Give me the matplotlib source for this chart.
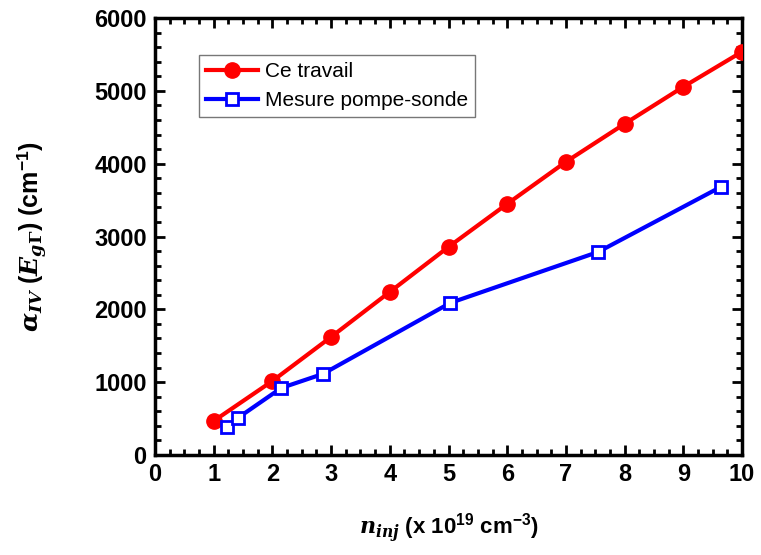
import matplotlib
matplotlib.use("Agg")
import matplotlib.pyplot as plt
from matplotlib.ticker import MultipleLocator

red_x = [1, 2, 3, 4, 5, 6, 7, 8, 9, 10]
red_y = [467, 1016, 1621, 2239, 2857, 3448, 4025, 4547, 5055, 5536]
blue_x = [1.23, 1.41, 2.15, 2.86, 5.03, 7.55, 9.64]
blue_y = [385, 508, 920, 1113, 2088, 2788, 3681]

plt.rcParams['font.family'] = ['Liberation Sans', 'DejaVu Sans']
plt.rcParams['mathtext.fontset'] = 'custom'
plt.rcParams['mathtext.it'] = 'DejaVu Serif:italic:bold'
plt.rcParams['mathtext.rm'] = 'DejaVu Serif:bold'
plt.rcParams['mathtext.bf'] = 'DejaVu Serif:bold'
plt.rcParams['mathtext.sf'] = 'Liberation Sans:bold'

fig = plt.figure(figsize=(7.61, 5.55), dpi=100)
ax = fig.add_axes([155/761, 1 - 455/555, (742-155)/761, (455-18)/555])

ax.plot(red_x, red_y, color='#ff0000', lw=3, marker='o', ms=11, label='Ce travail', zorder=3)
ax.plot(blue_x, blue_y, color='#0000ff', lw=3, marker='s', ms=8, mfc='white',
        mec='#0000ff', mew=2, label='Mesure pompe-sonde', zorder=3)

ax.set_xlim(0, 10)
ax.set_ylim(0, 6000)
ax.xaxis.set_major_locator(MultipleLocator(1))
ax.xaxis.set_minor_locator(MultipleLocator(0.25))
ax.yaxis.set_major_locator(MultipleLocator(1000))
ax.yaxis.set_minor_locator(MultipleLocator(200))
ax.tick_params(which='both', direction='in', top=True, right=True, width=2)
ax.tick_params(which='major', length=7, labelsize=17, pad=6)
ax.tick_params(which='minor', length=4)
for lab in ax.get_xticklabels() + ax.get_yticklabels():
    lab.set_fontweight('bold')
for s in ax.spines.values():
    s.set_linewidth(2.5)

ax.set_xlabel(r'$n_{inj}$ (x 10$^{\mathsf{19}}$ cm$^{\mathsf{-3}}$)', fontsize=16, fontweight='bold', labelpad=18)
ax.set_ylabel(r'$\alpha_{IV}$ ($E_{g\Gamma}$) (cm$^{\mathsf{-1}}$)', fontsize=18, fontweight='bold', labelpad=32)

leg = ax.legend(loc='upper left', bbox_to_anchor=(0.075, 0.915), borderaxespad=0, fontsize=15,
                frameon=True, fancybox=False, edgecolor='#555555', handlelength=2.5,
                borderpad=0.35, labelspacing=0.45, handletextpad=0.3)
leg.get_frame().set_linewidth(1)

fig.savefig('out.png', dpi=100)
